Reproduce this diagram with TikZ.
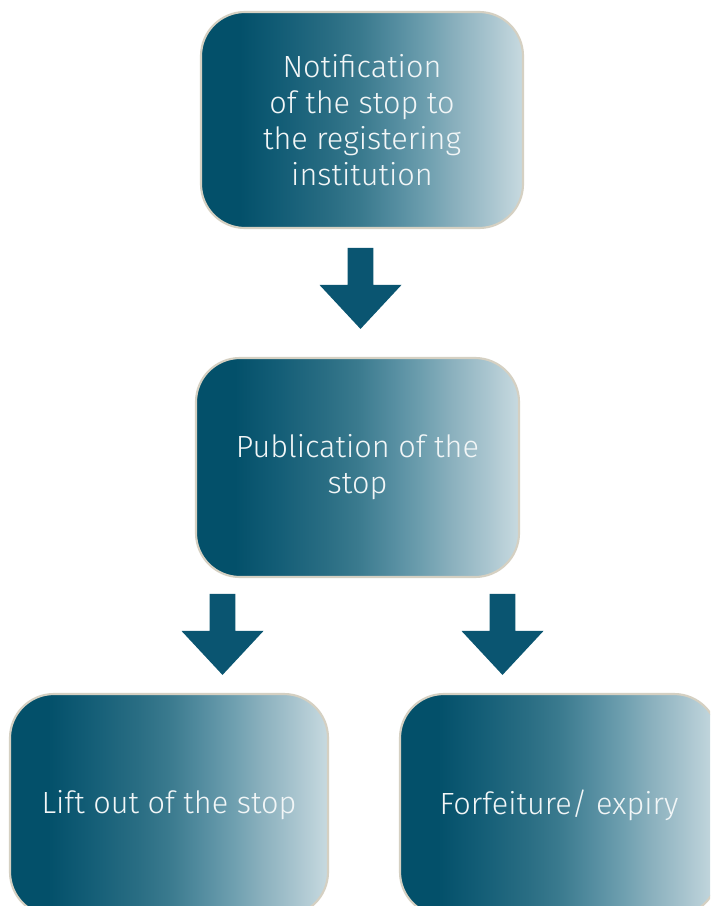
\documentclass[tikz,border=0pt]{standalone}
\usepackage{fontspec}
\setmainfont{Fira Sans Light}
\usetikzlibrary{calc}

\definecolor{fadeA}{HTML}{03506A}
\definecolor{fadeB}{HTML}{135D76}
\definecolor{fadeC}{HTML}{296D83}
\definecolor{fadeD}{HTML}{3A7A8E}
\definecolor{fadeE}{HTML}{538C9F}
\definecolor{fadeF}{HTML}{6E9FAF}
\definecolor{fadeG}{HTML}{8DB2BF}
\definecolor{fadeH}{HTML}{A9C5CF}
\definecolor{fadeI}{HTML}{C8DAE0}
\definecolor{rimc}{HTML}{D5D0C2}
\definecolor{arrowc}{HTML}{0A5571}
\definecolor{textc}{HTML}{F2F6F7}

% left-to-right teal fade used to fill every step box (box spans 25bp..75bp)
\pgfdeclarehorizontalshading{tealfade}{100bp}{color(0bp)=(fadeA); color(31bp)=(fadeA);
  color(37.5bp)=(fadeB); color(45bp)=(fadeC); color(50bp)=(fadeD); color(55bp)=(fadeE);
  color(60bp)=(fadeF); color(65bp)=(fadeG); color(70bp)=(fadeH); color(75bp)=(fadeI);
  color(100bp)=(fadeI)}

\tikzset{
  stepbox/.style={rounded corners=33pt, shading=tealfade, draw=rimc, line width=1.6pt,
    text=textc, align=center, inner sep=0pt,
    font=\fontsize{23}{27}\selectfont},
  blockarrow/.pic={
    \fill[arrowc] (-12.8,-81) -- (12.8,-81) -- (12.8,-44) -- (41,-44) -- (0,0)
      -- (-41,-44) -- (-12.8,-44) -- cycle;
  }
}

\begin{document}
\begin{tikzpicture}[x=0.75pt, y=-0.75pt]
  \useasboundingbox (0,0) rectangle (710,906);
  \clip (0,0) rectangle (710,906);
  \fill[white] (0,0) rectangle (710,906);

  \node[stepbox, minimum width=241.5pt, minimum height=162pt] (notify) at (362,120)
    {Notification\\of the stop to\\the registering\\institution};
  \node[stepbox, minimum width=242.25pt, minimum height=164.25pt] (publish) at (357.5,467.5)
    {Publication of the\\stop};
  \node[stepbox, minimum width=238.5pt, minimum height=166.5pt] (lift) at (169,805)
    {Lift out of the stop};
  \node[stepbox, minimum width=238.5pt, minimum height=166.5pt] (forfeit) at (559,805)
    {Forfeiture/ expiry};

  % block arrows; each pic has its tip at the origin
  \coordinate (tipA) at ($(publish.north)+(3,-28)$);
  \coordinate (tipB) at ($(lift.north)+(53.5,-18)$);
  \coordinate (tipC) at ($(forfeit.north)+(-56.5,-18)$);
  \pic at (tipA) {blockarrow};
  \pic at (tipB) {blockarrow};
  \pic at (tipC) {blockarrow};
\end{tikzpicture}
\end{document}
